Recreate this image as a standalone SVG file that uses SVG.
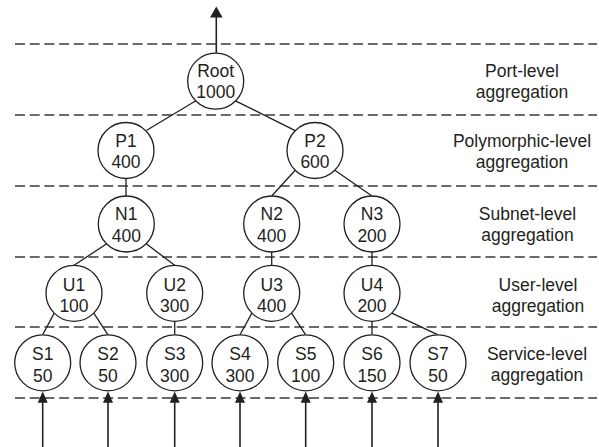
<svg xmlns="http://www.w3.org/2000/svg" width="599" height="447" viewBox="0 0 599 447">
  <defs>
    <style>
      .lvl { stroke: #3a3a3a; stroke-width: 1.3; stroke-dasharray: 10 4.7; fill: none; }
      .edge { stroke: #231f20; stroke-width: 1.3; fill: none; }
      .flow { stroke: #231f20; stroke-width: 1.6; fill: none; }
      .node circle { fill: #ffffff; stroke: #231f20; stroke-width: 1.3; }
      text { font-family: "Liberation Sans", Arial, sans-serif; font-size: 17.5px; fill: #231f20; text-anchor: middle; }
      .head { fill: #231f20; }
    </style>
  </defs>

  <!-- level separators -->
  <g id="levels">
    <line class="lvl" x1="15" y1="44" x2="597" y2="44"/>
    <line class="lvl" x1="15" y1="115" x2="597" y2="115"/>
    <line class="lvl" x1="15" y1="186" x2="597" y2="186"/>
    <line class="lvl" x1="15" y1="257" x2="597" y2="257"/>
    <line class="lvl" x1="15" y1="327" x2="597" y2="327"/>
    <line class="lvl" x1="15" y1="398" x2="597" y2="398"/>
  </g>

  <!-- tree connectors and traffic arrows -->
  <g id="connectors">
    <line class="edge" x1="195.9" y1="100.8" x2="146.7" y2="130.2"/>
    <line class="edge" x1="235.5" y1="100.8" x2="295.2" y2="130.7"/>
    <line class="edge" x1="126" y1="178.5" x2="126" y2="196"/>
    <line class="edge" x1="295.2" y1="170.3" x2="271.7" y2="196"/>
    <line class="edge" x1="334.8" y1="170.3" x2="372" y2="196"/>
    <line class="edge" x1="106.7" y1="243.8" x2="74" y2="265.3"/>
    <line class="edge" x1="146.3" y1="243.8" x2="174.7" y2="265.3"/>
    <line class="edge" x1="271.7" y1="252" x2="271.7" y2="265.3"/>
    <line class="edge" x1="372" y1="252" x2="372" y2="265.3"/>
    <line class="edge" x1="54.2" y1="313.1" x2="42.7" y2="334.8"/>
    <line class="edge" x1="93.8" y1="313.1" x2="108" y2="334.8"/>
    <line class="edge" x1="174.7" y1="321.3" x2="174.7" y2="334.8"/>
    <line class="edge" x1="251.9" y1="313.1" x2="240" y2="334.8"/>
    <line class="edge" x1="291.5" y1="313.1" x2="305.7" y2="334.8"/>
    <line class="edge" x1="372" y1="321.3" x2="372" y2="334.8"/>
    <line class="edge" x1="391.8" y1="313.1" x2="438" y2="334.8"/>

    <!-- output arrow -->
    <line class="flow" x1="216.3" y1="53" x2="216.3" y2="16"/>
    <polygon class="head" points="216.3,6.5 222.6,17.5 210,17.5"/>

    <!-- input arrows -->
    <g>
      <line class="flow" x1="42.7" y1="447" x2="42.7" y2="401"/>
      <polygon class="head" points="42.7,391.5 47.7,402.7 37.7,402.7"/>
      <line class="flow" x1="108" y1="447" x2="108" y2="401"/>
      <polygon class="head" points="108,391.5 113,402.7 103,402.7"/>
      <line class="flow" x1="174.7" y1="447" x2="174.7" y2="401"/>
      <polygon class="head" points="174.7,391.5 179.7,402.7 169.7,402.7"/>
      <line class="flow" x1="240" y1="447" x2="240" y2="401"/>
      <polygon class="head" points="240,391.5 245,402.7 235,402.7"/>
      <line class="flow" x1="305.7" y1="447" x2="305.7" y2="401"/>
      <polygon class="head" points="305.7,391.5 310.7,402.7 300.7,402.7"/>
      <line class="flow" x1="372" y1="447" x2="372" y2="401"/>
      <polygon class="head" points="372,391.5 377,402.7 367,402.7"/>
      <line class="flow" x1="438" y1="447" x2="438" y2="401"/>
      <polygon class="head" points="438,391.5 443,402.7 433,402.7"/>
    </g>
  </g>

  <!-- nodes -->
  <g id="root" class="node"><circle cx="215.7" cy="81.2" r="28"/><text x="215.7" y="77.3">Root</text><text x="215.7" y="98.3">1000</text></g>

  <g id="p1" class="node"><circle cx="126" cy="150.5" r="28"/><text x="126" y="146.7">P1</text><text x="126" y="167.7">400</text></g>
  <g id="p2" class="node"><circle cx="315" cy="150.5" r="28"/><text x="315" y="146.7">P2</text><text x="315" y="167.7">600</text></g>

  <g id="n1" class="node"><circle cx="126.3" cy="224" r="28"/><text x="126.3" y="220">N1</text><text x="126.3" y="241.5">400</text></g>
  <g id="n2" class="node"><circle cx="271.7" cy="224" r="28"/><text x="271.7" y="220">N2</text><text x="271.7" y="241.5">400</text></g>
  <g id="n3" class="node"><circle cx="372" cy="224" r="28"/><text x="372" y="220">N3</text><text x="372" y="241.5">200</text></g>

  <g id="u1" class="node"><circle cx="74" cy="293.3" r="28"/><text x="74" y="290.5">U1</text><text x="74" y="311.5">100</text></g>
  <g id="u2" class="node"><circle cx="174.7" cy="293.3" r="28"/><text x="174.7" y="290.5">U2</text><text x="174.7" y="311.5">300</text></g>
  <g id="u3" class="node"><circle cx="271.7" cy="293.3" r="28"/><text x="271.7" y="290.5">U3</text><text x="271.7" y="311.5">400</text></g>
  <g id="u4" class="node"><circle cx="372" cy="293.3" r="28"/><text x="372" y="290.5">U4</text><text x="372" y="311.5">200</text></g>

  <g id="s1" class="node"><circle cx="42.7" cy="362.8" r="28"/><text x="42.7" y="360">S1</text><text x="42.7" y="381.5">50</text></g>
  <g id="s2" class="node"><circle cx="108" cy="362.8" r="28"/><text x="108" y="360">S2</text><text x="108" y="381.5">50</text></g>
  <g id="s3" class="node"><circle cx="174.7" cy="362.8" r="28"/><text x="174.7" y="360">S3</text><text x="174.7" y="381.5">300</text></g>
  <g id="s4" class="node"><circle cx="240" cy="362.8" r="28"/><text x="240" y="360">S4</text><text x="240" y="381.5">300</text></g>
  <g id="s5" class="node"><circle cx="305.7" cy="362.8" r="28"/><text x="305.7" y="360">S5</text><text x="305.7" y="381.5">100</text></g>
  <g id="s6" class="node"><circle cx="372" cy="362.8" r="28"/><text x="372" y="360">S6</text><text x="372" y="381.5">150</text></g>
  <g id="s7" class="node"><circle cx="438" cy="362.8" r="28"/><text x="438" y="360">S7</text><text x="438" y="381.5">50</text></g>

  <!-- level labels -->
  <g id="labels">
    <text x="522" y="77.3">Port-level</text><text x="522" y="98.3">aggregation</text>
    <text x="522" y="146.7">Polymorphic-level</text><text x="522" y="167.7">aggregation</text>
    <text x="527.5" y="219.5">Subnet-level</text><text x="527.5" y="240.5">aggregation</text>
    <text x="538" y="290.7">User-level</text><text x="538" y="311.7">aggregation</text>
    <text x="537" y="359.5">Service-level</text><text x="537" y="380.5">aggregation</text>
  </g>
</svg>
